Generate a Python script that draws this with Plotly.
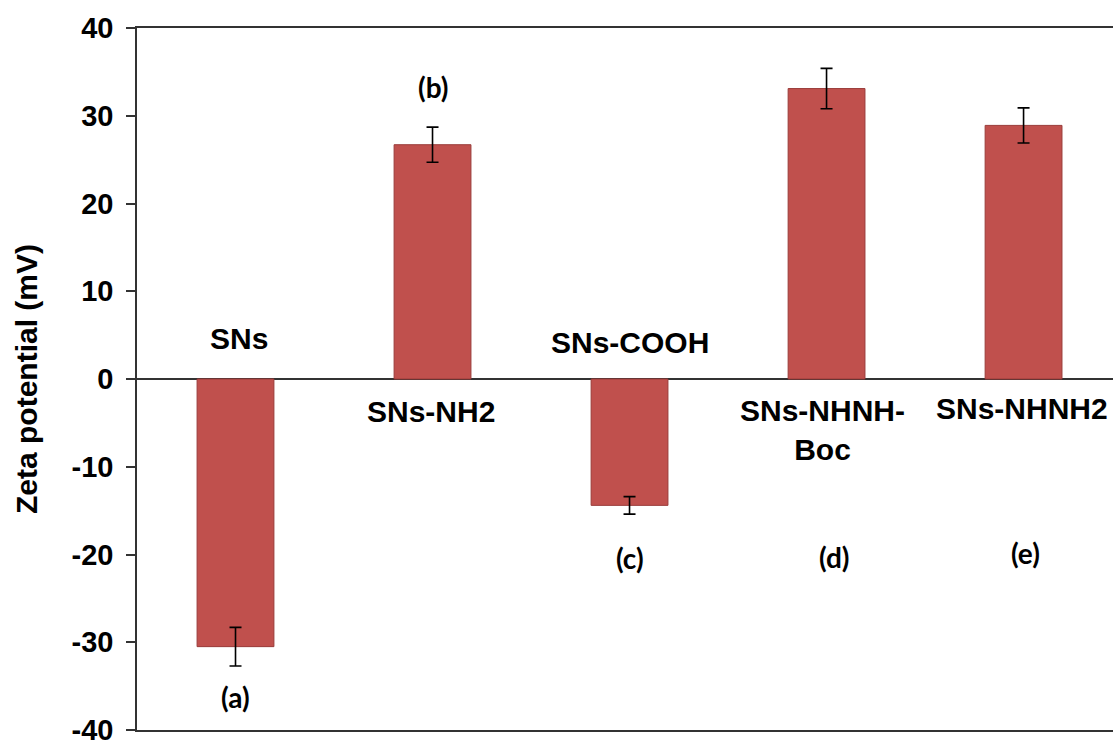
import plotly.graph_objects as go

# Zeta potential of the silica nanoparticle series
samples = ["SNs", "SNs-NH2", "SNs-COOH", "SNs-NHNH-<br>Boc", "SNs-NHNH2"]
letters = ["(a)", "(b)", "(c)", "(d)", "(e)"]
zeta_mv = [-30.5, 26.7, -14.4, 33.1, 28.9]
zeta_err = [2.2, 2.0, 1.0, 2.3, 2.0]
y_ticks = [-40, -30, -20, -10, 0, 10, 20, 30, 40]
y_tick_text = ["-40", "-30", "-20", "-10", "0", "10", "20", "30", "40"]

# label placement (data units)
name_pos = [(0.02, 4.6), (0.99, -3.7), (2.0, 4.15), (2.98, -5.85), (3.99, -3.4)]
letter_pos = [(0.0, -36.2), (1.0, 33.3), (2.0, -20.4), (3.04, -20.3), (4.01, -19.8)]

BAR = "#C0504D"
EDGE = "#9A3B39"
AXIS = "#333333"

fig = go.Figure()
fig.add_trace(go.Bar(
    x=list(range(len(samples))),
    y=zeta_mv,
    width=0.39,
    marker=dict(color=BAR, line=dict(color=EDGE, width=1)),
    error_y=dict(type="data", array=zeta_err, visible=True,
                 color="#000000", thickness=1.6, width=6),
    showlegend=False,
))

annotations = []
for name, (px, py) in zip(samples, name_pos):
    annotations.append(dict(
        x=px, y=py, xref="x", yref="y", text=name, showarrow=False,
        font=dict(family="Liberation Sans, Arial", size=30, color="#000000", weight="bold"),
        align="center",
    ))
for lab, (px, py) in zip(letters, letter_pos):
    annotations.append(dict(
        x=px, y=py, xref="x", yref="y", text=lab, showarrow=False,
        font=dict(family="Lato, Open Sans", size=28, color="#000000", weight="bold"),
    ))
annotations.append(dict(
    x=0, y=0.5, xref="paper", yref="paper", xanchor="center", yanchor="middle",
    xshift=-111, textangle=-90,
    text="Zeta potential (mV)", showarrow=False,
    font=dict(family="Liberation Sans, Arial", size=30, color="#000000", weight="bold"),
))

fig.update_layout(
    width=1113, height=742,
    margin=dict(l=137, r=0, t=28, b=12, autoexpand=False),
    paper_bgcolor="white", plot_bgcolor="white",
    annotations=annotations,
    xaxis=dict(
        range=[-0.5, 4.454], showticklabels=False, ticks="",
        showgrid=False, zeroline=False, automargin=False,
        showline=True, mirror=True, linecolor=AXIS, linewidth=1.5,
    ),
    yaxis=dict(
        range=[-40, 40], tickvals=y_ticks, ticktext=y_tick_text,
        ticks="outside", ticklen=9, tickwidth=1.5, tickcolor=AXIS,
        ticklabelstandoff=7, ticklabeloverflow="allow", automargin=False,
        tickfont=dict(family="Liberation Sans, Arial", size=29, color="#000000", weight="bold"),
        showgrid=False, zeroline=True, zerolinecolor=AXIS, zerolinewidth=1.5,
        showline=True, linecolor=AXIS, linewidth=1.5,
    ),
)

fig.write_html("out.html")
